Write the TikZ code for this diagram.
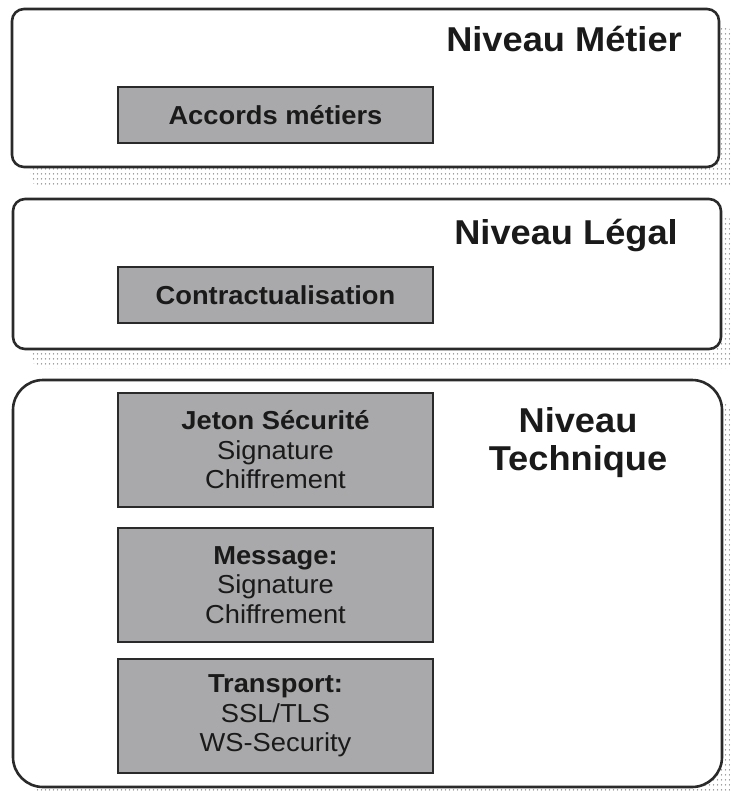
\documentclass[tikz,border=0pt]{standalone}
\usepackage{fontspec}
\setmainfont{Liberation Sans}[FakeStretch=1.05]
\usetikzlibrary{patterns.meta}
\definecolor{framec}{HTML}{2A2A2A}
\definecolor{boxfill}{HTML}{A9A9AB}
\definecolor{txt}{HTML}{1A1A1A}
\pgfdeclarepattern{
  name=halftone, type=uncolored,
  bottom left={\pgfpoint{0pt}{0pt}}, top right={\pgfpoint{3.5pt}{5pt}},
  tile size={\pgfpoint{3.5pt}{5pt}},
  code={\pgfpathcircle{\pgfpoint{1.75pt}{2.5pt}}{0.85pt}\pgfusepath{fill}}
}
\tikzset{
  panel/.style={draw=framec, line width=2.6pt, fill=white, rounded corners=#1, inner sep=0pt},
  shadowbox/.style={pattern=halftone, pattern color=black!45, draw=none, rounded corners=#1},
  layerbox/.style={draw=framec, line width=2pt, fill=boxfill, minimum width=315pt, align=center,
    inner sep=0pt, text=txt, font=\fontsize{26}{29.5}\selectfont},
  leveltitle/.style={font=\bfseries\fontsize{34.5}{38}\selectfont, text=txt, align=center, inner sep=0pt}
}
\begin{document}
\begin{tikzpicture}[x=1pt,y=-1pt]
\useasboundingbox (0,0) rectangle (730,791);
\clip (0,0) rectangle (730,791);
% shadows
\path[shadowbox=12] (30,28) rectangle (737,187);
\path[shadowbox=12] (31,218) rectangle (739,368);
\path[shadowbox=30] (31,399) rectangle (740,806);
% panels
\node[panel=12, minimum width=707pt, minimum height=158pt] (metier) at (365.5,88) {};
\node[panel=12, minimum width=708pt, minimum height=150pt] (legal) at (367,274) {};
\node[panel=30, minimum width=709pt, minimum height=407pt] (technique) at (367.5,583.5) {};
% titles
\node[leveltitle, anchor=base east] (tmetier) at (682,52) {Niveau Métier};
\node[leveltitle, anchor=base east] (tlegal) at (678,245) {Niveau Légal};
\node[leveltitle] (ttech) at (578,443) {Niveau\\Technique};
% layer boxes
\node[layerbox, minimum height=56pt] (accords) at (275.5,115) {\textbf{Accords métiers}};
\node[layerbox, minimum height=56pt] (contrat) at (275.5,295) {\textbf{Contractualisation}};
\node[layerbox, minimum height=114pt] (jeton) at (275.5,450) {\textbf{Jeton Sécurité}\\Signature\\Chiffrement};
\node[layerbox, minimum height=114pt] (message) at (275.5,585) {\textbf{Message:}\\Signature\\Chiffrement};
\node[layerbox, minimum height=114pt] (transport) at (275.5,716) {\textbf{Transport:}\\SSL/TLS\\WS-Security};
\end{tikzpicture}
\end{document}
